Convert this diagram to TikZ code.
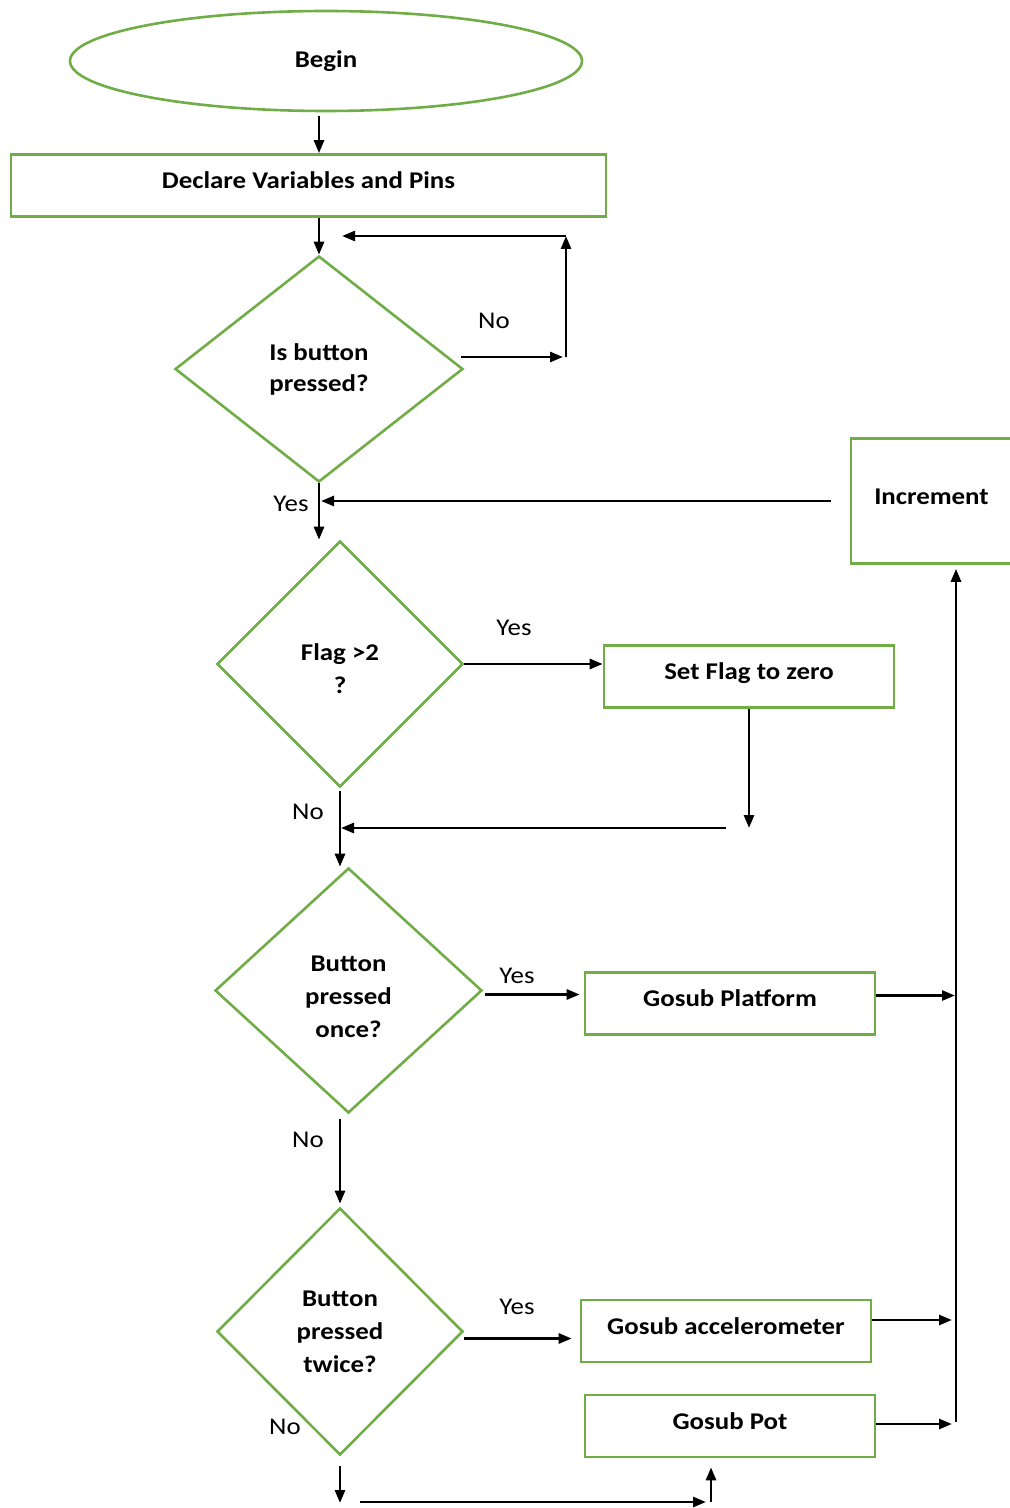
\documentclass[tikz,border=0pt]{standalone}
\usepackage{fontspec}
\setmainfont{Carlito}[FakeStretch=1.12]
\usetikzlibrary{shapes.geometric,arrows.meta}
\definecolor{flowgreen}{HTML}{70AD47}

\begin{document}
\begin{tikzpicture}[>={Triangle[length=6.5pt, width=5pt]}, x=0.5pt, y=-0.5pt,
  font=\fontsize{12}{16.5}\selectfont,
  flowline/.style={->, line width=1.35pt},
  terminal/.style={ellipse, draw=flowgreen, line width=1.3pt, inner sep=0pt, font=\fontsize{12}{16.5}\selectfont\bfseries},
  process/.style={rectangle, draw=flowgreen, line width=1.3pt, inner sep=0pt, minimum height=31pt,
    text height=8pt, text depth=4.6pt, font=\fontsize{12}{16.5}\selectfont\bfseries},
  decision/.style={diamond, draw=flowgreen, line width=1.3pt, inner sep=0pt, align=center, font=\fontsize{12}{16.5}\selectfont\bfseries},
  decisiontext/.style={inner sep=0pt, align=center, font=\fontsize{12}{16.5}\selectfont\bfseries},
  answer/.style={inner sep=0pt}]
  \useasboundingbox (0,0) rectangle (1009,1508);
  % ---------------------------------------------------------------- start and set-up
  \node[terminal, minimum width=256pt, minimum height=50pt] (begin) at (326,61) {Begin};
  \node[process, minimum width=297.5pt] (declare) at (308.5,185.5) {Declare Variables and Pins};
  \node[decision, minimum width=144pt, minimum height=113pt, font=\fontsize{12}{15.5}\selectfont\bfseries]
    (pressed) at (319,369) {Is button\\ pressed?};
  \draw[flowline, shorten <=2pt] (begin.south -| pressed.north) -- (declare.north -| pressed.north);
  \draw[flowline] (declare.south -| pressed.north) -- (pressed.north);
  % wait until the button is pressed
  \coordinate (waitA) at (461,357);
  \coordinate (waitB) at (566,357);
  \coordinate (waitC) at (566,236);
  \draw[flowline] (waitA) -- ([xshift=-1.5pt]waitB);
  \draw[flowline] (waitB) -- (waitC);
  \draw[flowline, shorten >=0.5pt] (waitC) -- (waitC -| 341,0);
  \node[answer] (noWait) at (494,321) {No};
  % ---------------------------------------------------------------- flag check
  \node[decision, minimum width=123pt, minimum height=123pt,
    label={[name=flagText, decisiontext, yshift=-2.5pt]center:{Flag >2\\ ?}}] (flag) at (340,664) {};
  \node[process, minimum width=145pt] (zero) at (749,676.5) {Set Flag to zero};
  \node[process, minimum width=80.5pt, minimum height=62.5pt] (incr) at (931.5,501) {Increment};
  \draw[flowline] (pressed.south) -- (pressed.south |- flag.north);
  \node[answer] (yesPressed) at (291,504) {Yes};
  \draw[flowline, shorten <=9.5pt, shorten >=1pt] (incr.west) -- (incr.west -| pressed.south);
  \draw[flowline] (flag.east) -- (flag.east -| zero.west);
  \node[answer] (yesFlag) at (514,628) {Yes};
  \coordinate (zeroDrop) at (749,828);
  \coordinate (zeroBack) at (726,828);
  \draw[flowline] (zero.south) -- (zeroDrop);
  \draw[flowline, shorten >=0.5pt] (zeroBack) -- (zeroBack -| flag.south);
  % ---------------------------------------------------------------- button pressed once
  \node[decision, minimum width=133.5pt, minimum height=122.5pt,
    label={[name=onceText, decisiontext, yshift=-3pt]center:{Button\\ pressed\\ once?}}] (once) at (348.5,990.5) {};
  \node[process, minimum width=145pt] (platform) at (730,1003.5) {Gosub Platform};
  \draw[flowline, shorten <=1.5pt] (flag.south) -- (flag.south |- once.north);
  \node[answer] (noFlag) at (308,812) {No};
  \draw[flowline, shorten <=1pt, shorten >=2pt] ([yshift=-2pt]once.east) -- ([yshift=-2pt]once.east -| platform.west);
  \node[answer] (yesOnce) at (517,976) {Yes};
  % ---------------------------------------------------------------- button pressed twice
  \node[decision, minimum width=123pt, minimum height=123.5pt] (twice) at (340,1331.5) {Button\\ pressed\\ twice?};
  \node[process, minimum width=145pt] (accel) at (726,1331) {Gosub accelerometer};
  \node[process, minimum width=145pt] (pot) at (730,1426) {Gosub Pot};
  \draw[flowline, shorten <=2.5pt, shorten >=1.5pt] (once.south -| flag.south) -- (flag.south |- twice.north);
  \node[answer] (noOnce) at (308,1140) {No};
  \draw[flowline, shorten >=4pt] ([yshift=-3.5pt]twice.east) -- ([yshift=-3.5pt]twice.east -| accel.west);
  \node[answer] (yesTwice) at (517,1307) {Yes};
  \node[answer] (noTwice) at (285,1427) {No};
  % no choice left: fall through to the pot
  \coordinate (fallEnd) at (340,1503);
  \coordinate (fallL) at (360,1502);
  \coordinate (fallR) at (711,1502);
  \draw[flowline, shorten <=5pt] (twice.south) -- (fallEnd);
  \draw[flowline] (fallL) -- ([xshift=-2.5pt]fallR);
  \draw[flowline, shorten >=4.5pt] (fallR) -- (fallR |- pot.south);
  % ---------------------------------------------------------------- back to the increment
  \coordinate (bus) at (956,1422);
  \draw[flowline, shorten >=2pt] (bus) -- (bus |- incr.south);
  \draw[flowline, shorten >=0.5pt] ([yshift=4pt]platform.east) -- ([yshift=4pt]platform.east -| bus);
  \draw[flowline, shorten >=2pt] ([yshift=5.5pt]accel.east) -- ([yshift=5.5pt]accel.east -| bus);
  \draw[flowline, shorten >=2pt] ([yshift=1pt]pot.east) -- ([yshift=1pt]pot.east -| bus);
\end{tikzpicture}
\end{document}
